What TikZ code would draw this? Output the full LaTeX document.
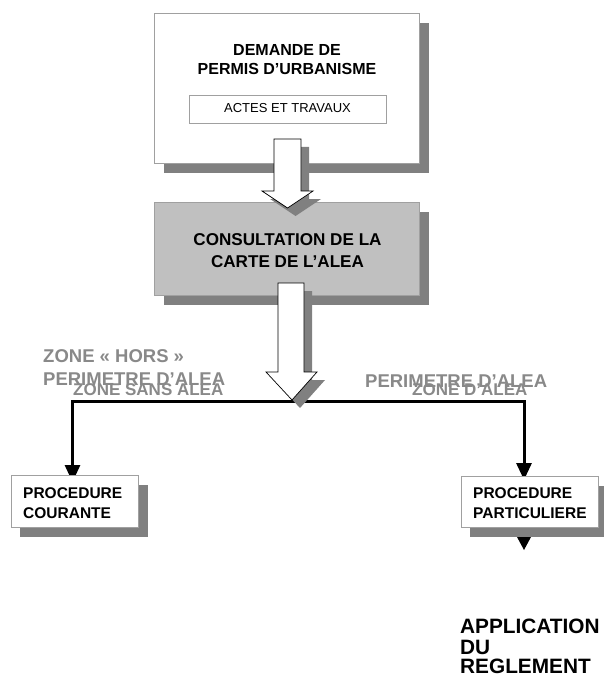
\documentclass[tikz,border=0pt]{standalone}
\usepackage{fontspec}
\setmainfont{Liberation Sans}
\usetikzlibrary{arrows.meta,shadows}

\definecolor{shade}{HTML}{808080}
\definecolor{panel}{HTML}{C0C0C0}
\definecolor{rim}{HTML}{A0A0A0}
\definecolor{zonegray}{HTML}{898989}

\tikzset{
  card/.style={draw=rim, line width=0.8pt, fill=white, inner sep=0pt,
    drop shadow={shadow xshift=10pt, shadow yshift=-10pt, fill=shade, opacity=1}},
  smallcard/.style={card, drop shadow={shadow xshift=9pt, shadow yshift=-10pt, fill=shade, opacity=1}},
  boldtxt/.style={font=\fontsize{15.5}{19}\selectfont\bfseries, anchor=base, inner sep=0pt},
  boldleft/.style={boldtxt, anchor=base west},
  zonetxt/.style={font=\fontsize{18.5}{20}\selectfont\bfseries, text=zonegray, anchor=base west, inner sep=0pt},
  zonesmall/.style={zonetxt, font=\fontsize{17}{20}\selectfont\bfseries},
  bigtxt/.style={font=\fontsize{20.8}{20.8}\selectfont\bfseries, anchor=base west, inner sep=0pt},
  blockarrow/.style={fill=white, draw=black, line width=0.7pt, line join=miter},
  blockshadow/.style={fill=shade},
  conn/.style={line width=3pt, -{Triangle[width=15pt,length=17pt]}},
}

\begin{document}
\begin{tikzpicture}[x=1pt,y=-1pt]
\useasboundingbox (0,0) rectangle (603,679);

% request box
\node[card, minimum width=265pt, minimum height=150pt] (request) at (286.5,88) {};
\node[boldtxt, font=\fontsize{16}{19}\selectfont\bfseries] (req1) at (287,56) {DEMANDE DE};
\node[boldtxt, font=\fontsize{16}{19}\selectfont\bfseries] (req2) at (287,75) {PERMIS D’URBANISME};
\node[draw=rim, line width=0.8pt, minimum width=197pt, minimum height=28pt, inner sep=0pt] (works) at (287.5,109) {};
\node[font=\fontsize{13}{15}\selectfont, anchor=base, inner sep=0pt] (workstxt) at (287.5,113) {ACTES ET TRAVAUX};

% consultation box
\node[card, fill=panel, minimum width=265pt, minimum height=93pt] (consult) at (286.5,248.5) {};
\node[boldtxt, font=\fontsize{17.1}{22}\selectfont\bfseries] (con1) at (287.5,245) {CONSULTATION DE LA};
\node[boldtxt, font=\fontsize{17.1}{22}\selectfont\bfseries] (con2) at (287.5,267) {CARTE DE L’ALEA};

% block arrow from request to consultation
\begin{scope}[shift={(8,8)}]
  \fill[blockshadow] (274,139) -- (301,139) -- (301,191) -- (313,191) -- (287.5,208) -- (262,191) -- (274,191) -- cycle;
\end{scope}
\draw[blockarrow] (274,139) -- (301,139) -- (301,191) -- (313,191) -- (287.5,208) -- (262,191) -- (274,191) -- cycle;

% split line and its branches
\coordinate (split) at (345,401);
\coordinate (tipL) at (72.5,482);
\coordinate (tipR) at (524,480);
\draw[conn] (split) -| (tipL);
\draw[conn] (split) -| (tipR);

% block arrow from consultation to the split
\begin{scope}[shift={(8,8)}]
  \fill[blockshadow] (278,283) -- (304,283) -- (304,372) -- (317,372) -- (292,400) -- (266,372) -- (278,372) -- cycle;
\end{scope}
\draw[blockarrow] (278,283) -- (304,283) -- (304,372) -- (317,372) -- (292,400) -- (266,372) -- (278,372) -- cycle;

% zone labels
\node[zonetxt] (zl1) at (43,362) {ZONE « HORS »};
\node[zonetxt] (zl2) at (43,385) {PERIMETRE D'ALEA};
\node[zonesmall] (zl3) at (73,395) {ZONE SANS ALEA};
\node[zonetxt] (zr1) at (365,387) {PERIMETRE D'ALEA};
\node[zonesmall] (zr2) at (412,395) {ZONE D'ALEA};

% procedure boxes (drawn over the arrow tips)
\node[smallcard, minimum width=127pt, minimum height=52pt] (courante) at (74.5,501) {};
\node[boldleft] (cou1) at (23,498) {PROCEDURE};
\node[boldleft] (cou2) at (23,518) {COURANTE};

\node[smallcard, minimum width=137pt, minimum height=51pt] (particuliere) at (529.5,501.5) {};
\node[boldleft] (par1) at (473,498) {PROCEDURE};
\node[boldleft] (par2) at (473,518) {PARTICULIERE};

% arrow tip towards the regulation
\fill (517,537) -- (531,537) -- (524,550) -- cycle;

\node[bigtxt] (app1) at (460,633) {APPLICATION};
\node[bigtxt] (app2) at (460,654) {DU};
\node[bigtxt] (app3) at (460,673) {REGLEMENT};
\end{tikzpicture}
\end{document}
